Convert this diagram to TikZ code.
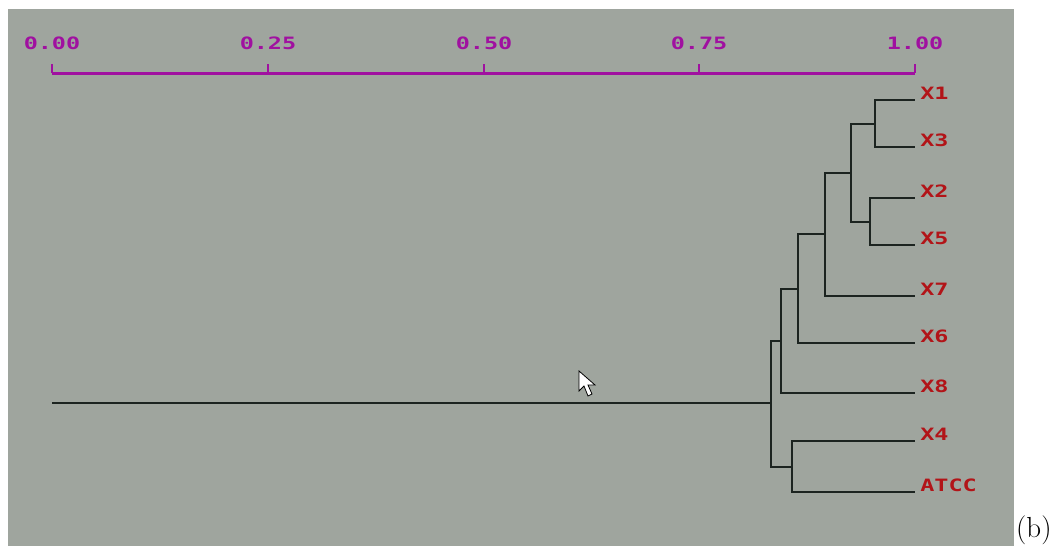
\documentclass[tikz,border=0pt]{standalone}
\usepackage{fontspec}
\newfontfamily\pixfont{DejaVu Sans Mono}[BoldFont={DejaVu Sans Mono Bold}]
\definecolor{panel}{RGB}{159,165,158}
\definecolor{axismag}{RGB}{160,16,160}
\definecolor{leafred}{RGB}{178,20,24}
\definecolor{treeline}{RGB}{28,36,32}
\begin{document}
\begin{tikzpicture}[x=1pt,y=-1pt,
  axis/.style={draw=axismag,line width=3pt},
  tickmark/.style={draw=axismag,line width=1.8pt},
  ticklabel/.style={text=axismag,font=\pixfont\bfseries\fontsize{17}{17}\selectfont,xscale=1.38,inner sep=0pt},
  leaflabel/.style={text=leafred,font=\pixfont\bfseries\fontsize{17}{17}\selectfont,xscale=1.38,inner sep=0pt,anchor=west},
  branch/.style={draw=treeline,line width=2pt}]
\useasboundingbox (0,0) rectangle (1061,546);
\fill[panel] (8,9) rectangle (1014,546);
% axis
\coordinate (a0) at (52,73);
\coordinate (a1) at (915,73);
\draw[axis] (a0) -- (a1);
\foreach \v/\xx in {0.00/52,0.25/268,0.50/484,0.75/699,1.00/915}{
  \draw[tickmark] (\xx,73) -- (\xx,64);
  \node[ticklabel] (t\xx) at (\xx,43) {\v};
}
% leaves
\foreach \n/\yy/\t in {1/100/X1,3/147/X3,2/198/X2,5/245/X5,7/296/X7,6/343/X6,8/393/X8,4/441/X4,9/492/ATCC}{
  \coordinate (l\n) at (915,\yy);
  \node[leaflabel] (lab\n) at (920,\yy-7) {\t};
}
% internal nodes
\coordinate (n13) at (875,124);
\coordinate (n25) at (870,222);
\coordinate (nA) at (851,173);
\coordinate (nB) at (825,234);
\coordinate (nC) at (798,289);
\coordinate (nD) at (781,341);
\coordinate (nE) at (792,467);
\coordinate (root) at (771,403);
\coordinate (rootend) at (52,403);
\draw[branch] (n13) |- (l1) (n13) |- (l3);
\draw[branch] (n25) |- (l2) (n25) |- (l5);
\draw[branch] (nA) |- (n13) (nA) |- (n25);
\draw[branch] (nB) |- (nA) (nB) |- (l7);
\draw[branch] (nC) |- (nB) (nC) |- (l6);
\draw[branch] (nD) |- (nC) (nD) |- (l8);
\draw[branch] (nE) |- (l4) (nE) |- (l9);
\draw[branch] (root) |- (nD) (root) |- (nE);
\draw[branch] (rootend) -- (root);
% mouse cursor
\draw[fill=white,draw=black,line width=0.8pt,line join=miter]
  (579,371) -- (579,391) -- (584,386) -- (588,396) -- (592,394) -- (588,385) -- (595,385) -- cycle;
% caption
\node[font=\fontsize{29}{29}\selectfont,anchor=base west,inner sep=0pt] (cap) at (1016,537) {(b)};
\end{tikzpicture}
\end{document}
